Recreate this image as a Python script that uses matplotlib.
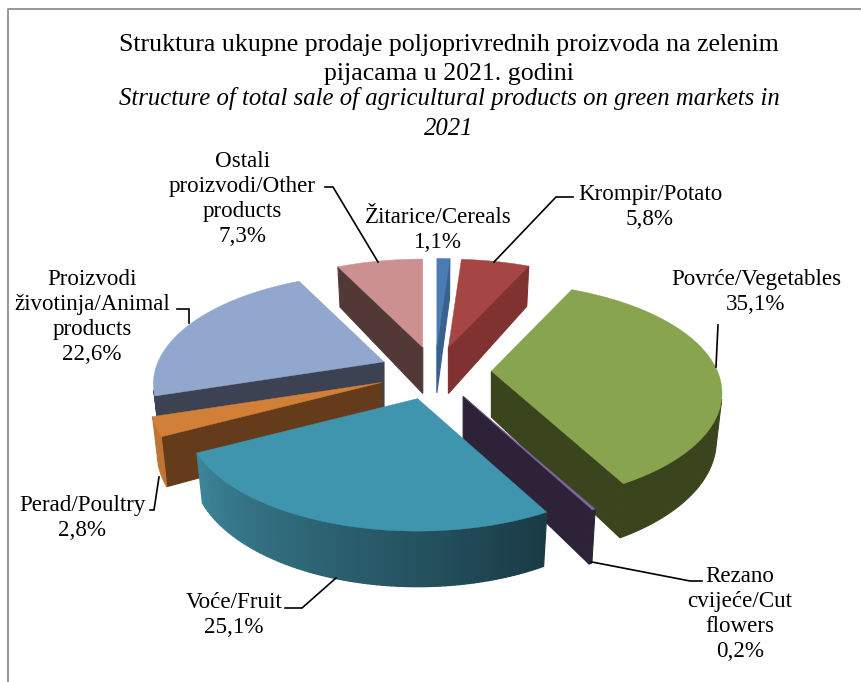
import numpy as np
import matplotlib
matplotlib.use("Agg")
import matplotlib.pyplot as plt
from matplotlib.colors import to_rgb

# ---- data (clockwise from 12 o'clock) ----
labels = ["Žitarice/Cereals", "Krompir/Potato", "Povrće/Vegetables",
          "Rezano\ncvijeće/Cut\nflowers", "Voće/Fruit", "Perad/Poultry",
          "Proizvodi\nživotinja/Animal\nproducts",
          "Ostali\nproizvodi/Other\nproducts"]
values = [1.1, 5.8, 35.1, 0.2, 25.1, 2.8, 22.6, 7.3]
title_sr = "Struktura ukupne prodaje poljoprivrednih proizvoda na zelenim\npijacama u 2021. godini"
title_en = "Structure of total sale of agricultural products on green markets in\n2021"

# ---- styles ----
top_colors = ["#4A7BB2", "#A54644", "#89A44E", "#8064A2", "#3F95AE", "#D27F38", "#92A7CD", "#CD9090"]
side_colors = ["#38618F", "#7F3230", "#3A441D", "#2D2238", "#1A3B46", "#653C1B", "#3C4252", "#523938"]
arc_colors = ["#38618F", "#7F3230", "#3A441D", "#2D2238", "#3C8599", "#BE7432", "#3C4252", "#523938"]
arc_end_colors = [None, None, None, None, "#1A3B46", None, None, None]
draw_order = [7, 0, 1, 6, 5, 2, 3, 4]
FONT = "Liberation Serif"
LABEL_SIZE = 16.6
TITLE_SIZE = 18.6
TITLE_EN_SIZE = 17.8

# ---- projection of the tilted pie ----
CX, CY = 435.0, 372.0
A, B, K = 226.0, 106.0, 0.2
EXPLODE = 0.25
DEPTH = 46.0
SHRINK_X, SHRINK_Y = 0.975, 0.985


def proj(u, v):
    w = 1 + K * v
    return A * u / w, -B * v / w


def visible(p, q, q2, p2):
    pts = np.array([p, q, q2, p2])
    x, y = pts[:, 0], pts[:, 1]
    area = np.sum(x * np.roll(y, -1) - np.roll(x, -1) * y)
    return area < 0   # y axis points down


def blend(c1, c2, t):
    a, b = np.array(to_rgb(c1)), np.array(to_rgb(c2))
    return tuple(a + (b - a) * t)


fractions = np.array(values) / sum(values)
edges = np.concatenate([[0], np.cumsum(fractions)]) * 2 * np.pi

fig = plt.figure(figsize=(8.61, 6.82), dpi=100)
ax = fig.add_axes([0, 0, 1, 1])
ax.set_xlim(0, 861)
ax.set_ylim(682, 0)
ax.axis("off")

# chart frame
ax.plot([7.5, 7.5, 861], [682, 9, 9], color="#868686", lw=1.2, solid_capstyle="butt")

for order, i in enumerate(draw_order):
    z = 2 + order * 0.1
    t0, t1 = edges[i], edges[i + 1]
    mid = (t0 + t1) / 2
    off_x, off_y = proj(EXPLODE * np.sin(mid), EXPLODE * np.cos(mid))
    ox, oy = CX + off_x, CY + off_y
    n = max(3, int((t1 - t0) / np.radians(1.0)))
    th = np.linspace(t0, t1, n)
    xs, ys = proj(np.sin(th), np.cos(th))
    ws = 1 + K * np.cos(th)

    upper = np.column_stack([ox + xs, oy + ys])
    lower = np.column_stack([ox + xs * SHRINK_X, oy + ys * SHRINK_Y + DEPTH / ws])
    apex_u = np.array([ox, oy])
    apex_l = np.array([ox, oy + DEPTH])

    # radial faces
    for a, b, al, bl in [(apex_u, upper[0], apex_l, lower[0]),
                         (upper[-1], apex_u, lower[-1], apex_l)]:
        if visible(a, b, bl, al):
            poly = np.array([a, b, bl, al])
            ax.fill(poly[:, 0], poly[:, 1], color=side_colors[i], lw=0.8, zorder=z)
    # outer wall
    vis = [j for j in range(n - 1) if visible(upper[j], upper[j + 1], lower[j + 1], lower[j])]
    if vis:
        if arc_end_colors[i]:
            for j in vis:
                c = blend(arc_end_colors[i], arc_colors[i], j / (n - 2))
                poly = np.array([upper[j], upper[j + 1], lower[j + 1], lower[j]])
                ax.fill(poly[:, 0], poly[:, 1], color=c, lw=1.0, zorder=z)
        else:
            j0, j1 = vis[0], vis[-1] + 1
            poly = np.vstack([upper[j0:j1 + 1], lower[j0:j1 + 1][::-1]])
            ax.fill(poly[:, 0], poly[:, 1], color=arc_colors[i], lw=0.8, zorder=z)
    # top face
    poly = np.vstack([apex_u, upper])
    ax.fill(poly[:, 0], poly[:, 1], color=top_colors[i], lw=0.3, zorder=z + 0.01)

# leader lines
leaders = [
    ([325, 333, 378], [187, 187, 262]),
    ([573, 556, 494], [197, 197, 262]),
    ([718, 716], [325, 367]),
    ([702, 690, 592], [581, 581, 562]),
    ([285, 302, 336], [608, 608, 578]),
    ([150, 154, 159], [510, 510, 477]),
    ([177, 189, 189], [309, 309, 323]),
]
for lx, ly in leaders:
    ax.plot(lx, ly, color="black", lw=1.2, zorder=5, solid_joinstyle="miter")

# category labels
label_pos = [(438, 230), (650, 207), (756, 292), (740, 614), (234, 615), (82, 518), (92, 317), (242, 199)]
for name, val, (lx, ly) in zip(labels, values, label_pos):
    pct = f"{val:.1f}%".replace(".", ",")
    ax.text(lx, ly, f"{name}\n{pct}", ha="center", va="center", family=FONT,
            fontsize=LABEL_SIZE, linespacing=1.23, color="black", zorder=6)

# title
ax.text(449, 59.5, title_sr, ha="center", va="center", family=FONT,
        fontsize=TITLE_SIZE, linespacing=1.42, color="black")
ax.text(449, 113.5, title_en, ha="center", va="center", family=FONT, style="italic",
        fontsize=TITLE_EN_SIZE, linespacing=1.42, color="black")

fig.savefig("out.png", dpi=100, facecolor="white")
